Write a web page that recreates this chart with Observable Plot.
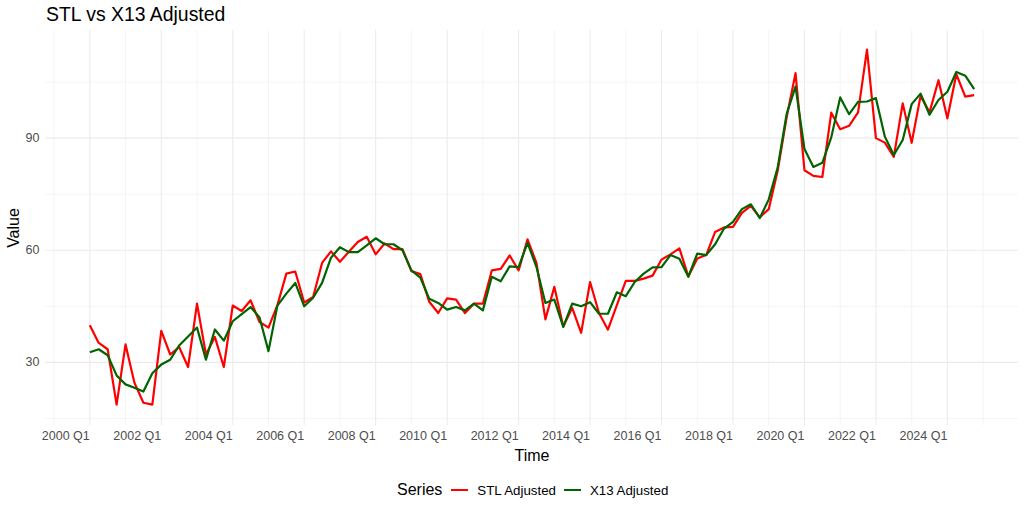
<!DOCTYPE html>
<html>
<head>
<meta charset="utf-8">
<script src="https://cdn.jsdelivr.net/npm/d3@7"></script>
<script src="https://cdn.jsdelivr.net/npm/@observablehq/plot@0.6"></script>
<style>
  html, body { margin: 0; padding: 0; background: #ffffff; }
  body { width: 1024px; height: 512px; overflow: hidden; position: relative;
         font-family: "Liberation Sans", Arial, Helvetica, sans-serif; }
  #title { position: absolute; left: 46px; top: 1px; font-size: 19.4px; line-height: 26px; color: #000; white-space: nowrap; }
  #chart { position: absolute; left: 0; top: 28px; }
  #legend { position: absolute; left: 397px; top: 468px; height: 44px;
            display: flex; justify-content: flex-start; align-items: center; color: #000; white-space: nowrap; }
  #legend .ttl { font-size: 16px; margin-right: 9px; }
  #legend .key { width: 17px; height: 2.2px; margin-right: 9px; }
  #legend .lab { font-size: 13.3px; margin-right: 8px; }
</style>
</head>
<body>
<div id="title">STL vs X13 Adjusted</div>
<div id="chart"></div>
<div id="legend"></div>
<script>
// ---- data ----
const startYear = 2000; // first observation: 2000 Q1, quarterly
const seriesNames = ["STL Adjusted", "X13 Adjusted"];
const seriesColors = ["#ff0000", "#006400"];

const stlAdjusted = [39.9, 35.2, 33.5, 18.7, 34.8, 24.5, 19.2, 18.7, 38.4, 32.1,
  34.1, 28.75, 45.7, 32.1, 36.8, 28.75, 45.2, 43.75, 46.6, 40.8,
  39.3, 45.3, 53.75, 54.3, 46, 47.5, 56.6, 59.7, 56.9, 59.6,
  62.2, 63.6, 58.9, 61.8, 60.3, 60.3, 54.4, 53.6, 46.2, 43.2,
  47.1, 46.8, 43.2, 45.7, 45.7, 54.6, 55, 58.6, 54.6, 62.9,
  56.6, 41.5, 50.2, 39.6, 44.6, 37.9, 51.5, 43.2, 38.75, 45.3,
  51.8, 51.8, 52.4, 53.2, 57.5, 58.9, 60.5, 53, 57.8, 58.7,
  64.9, 66.1, 66.25, 70, 71.9, 68.8, 71, 81.25, 95.5, 107.4,
  81.4, 79.9, 79.6, 96.8, 92.4, 93.3, 96.9, 113.7, 90, 88.8,
  85, 99.3, 88.75, 101.3, 96.9, 105.5, 95.3, 107.1, 101.1, 101.5];

const x13Adjusted = [32.7, 33.5, 31.9, 26.5, 24.1, 23.2, 22.2, 27.1, 29.4, 30.7,
  34.5, 36.9, 39.3, 30.7, 38.8, 35.8, 41, 42.9, 44.8, 42,
  33, 45.2, 48.4, 51.25, 45, 47.3, 51.25, 58, 60.8, 59.5,
  59.5, 61.3, 63.2, 61.6, 61.6, 60, 54.6, 52.7, 47, 45.9,
  44.1, 44.8, 43.9, 45.7, 43.9, 52.9, 51.7, 55.7, 55.5, 62,
  55.5, 45.9, 46.8, 39.5, 45.7, 45, 46.1, 43, 43, 48.75,
  47.7, 51.5, 53.75, 55.4, 55.5, 58.7, 57.7, 52.9, 59.1, 58.7,
  61.6, 65.8, 67.6, 71, 72.3, 68.6, 73.6, 82.1, 96.4, 103.8,
  87.1, 82.3, 83.4, 90.2, 100.9, 96.4, 99.7, 99.8, 100.7, 90.4,
  85.5, 89.5, 99.1, 101.9, 96.25, 100.2, 102.4, 107.7, 106.7, 103.1];

const xTickYears = [2000, 2002, 2004, 2006, 2008, 2010, 2012, 2014, 2016, 2018, 2020, 2022, 2024];
const xMinorYears = [1999, 2001, 2003, 2005, 2007, 2009, 2011, 2013, 2015, 2017, 2019, 2021, 2023, 2025];
const yTicks = [30, 60, 90];
const yMinorTicks = [15, 45, 75, 105];

// ---- table ----
const table = [];
[stlAdjusted, x13Adjusted].forEach((vals, s) => {
  vals.forEach((v, i) => table.push({t: startYear + i / 4, value: v, series: seriesNames[s]}));
});

const gridColor = "#ebebeb";
const font = "'Liberation Sans', Arial, Helvetica, sans-serif";

const chart = Plot.plot({
  width: 1024,
  height: 440,
  marginLeft: 45,
  marginRight: 6,
  marginTop: 2,
  marginBottom: 43,
  style: {fontFamily: font, background: "transparent", overflow: "visible"},
  x: {domain: [1998.76, 2025.99]},
  y: {domain: [13.1, 118.8]},
  color: {domain: seriesNames, range: seriesColors},
  marks: [
    Plot.gridX(xMinorYears, {stroke: gridColor, strokeOpacity: 1, strokeWidth: 0.55}),
    Plot.gridY(yMinorTicks, {stroke: gridColor, strokeOpacity: 1, strokeWidth: 0.55}),
    Plot.gridX(xTickYears, {stroke: gridColor, strokeOpacity: 1, strokeWidth: 1.07}),
    Plot.gridY(yTicks, {stroke: gridColor, strokeOpacity: 1, strokeWidth: 1.07}),
    Plot.axisX(xTickYears, {tickSize: 0, tickPadding: 6, textAnchor: "end",
      tickFormat: d => `${d} Q1`, fontSize: 12.5, fill: "#4d4d4d", label: null}),
    Plot.axisX([], {tickSize: 0, label: "Time", labelAnchor: "center", labelArrow: "none",
      labelOffset: 35, fontSize: 16, fill: "#000"}),
    Plot.axisY(yTicks, {tickSize: 0, tickPadding: 6, fontSize: 12.5, fill: "#4d4d4d", label: null}),
    Plot.axisY([], {tickSize: 0, label: "Value", labelAnchor: "center", labelArrow: "none",
      labelOffset: 38, fontSize: 16, fill: "#000"}),
    Plot.line(table, {x: "t", y: "value", stroke: "series", z: "series",
      strokeWidth: 2.2, strokeLinejoin: "round", strokeLinecap: "butt"})
  ]
});
document.getElementById("chart").appendChild(chart);

// legend
const legend = document.getElementById("legend");
const ttl = document.createElement("span");
ttl.className = "ttl"; ttl.textContent = "Series";
legend.appendChild(ttl);
seriesNames.forEach((name, i) => {
  const k = document.createElement("span");
  k.className = "key"; k.style.background = seriesColors[i];
  legend.appendChild(k);
  const l = document.createElement("span");
  l.className = "lab"; l.textContent = name;
  legend.appendChild(l);
});
</script>
</body>
</html>
